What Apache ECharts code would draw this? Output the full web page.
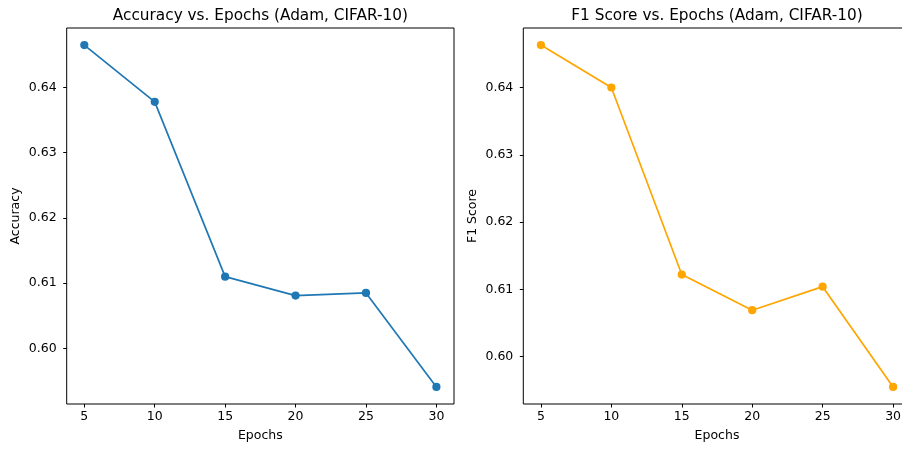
<!DOCTYPE html>
<html>
<head>
<meta charset="utf-8">
<script src="https://cdn.jsdelivr.net/npm/echarts@6/dist/echarts.min.js"></script>
<style>
html,body{margin:0;padding:0;background:#fff;}
#chart{width:902px;height:450px;}
</style>
</head>
<body>
<div id="chart"></div>
<script>
const epochs = [5, 10, 15, 20, 25, 30];
const accuracy = [0.6465, 0.6378, 0.6110, 0.6081, 0.6085, 0.5941];
const f1Score = [0.6463, 0.6400, 0.6122, 0.6069, 0.6104, 0.5955];
const xTicks = [5, 10, 15, 20, 25, 30];
const yTicks = [0.60, 0.61, 0.62, 0.63, 0.64];
const titles = ['Accuracy vs. Epochs (Adam, CIFAR-10)', 'F1 Score vs. Epochs (Adam, CIFAR-10)'];
const yNames = ['Accuracy', 'F1 Score'];
const xName = 'Epochs';

const FONT = 'DejaVu Sans';
function padRange(arr) {
  const mn = Math.min(...arr), mx = Math.max(...arr);
  const m = (mx - mn) * 0.05;
  return [mn - m, mx + m];
}
const xr = padRange(epochs);
const yr = [padRange(accuracy), padRange(f1Score)];

const grids = [
  {left: 66.7, top: 28, width: 387.3, height: 376},
  {left: 523.3, top: 28, width: 387.4, height: 376}
];

const chart = echarts.init(document.getElementById('chart'), null, {renderer: 'canvas'});
const option = {
  animation: false,
  backgroundColor: '#fff',
  title: titles.map((t, i) => ({
    text: t,
    left: grids[i].left + grids[i].width / 2,
    textAlign: 'center',
    top: 9,
    padding: 0,
    textStyle: {fontFamily: FONT, fontSize: 15.3, fontWeight: 'normal', color: '#000'}
  })),
  grid: grids.map(g => Object.assign({show: true, borderColor: '#000', borderWidth: 1, backgroundColor: 'transparent',
    containLabel: false, outerBoundsMode: 'none'}, g)),
  xAxis: [0, 1].map(i => ({
    type: 'value', gridIndex: i, min: xr[0], max: xr[1],
    name: xName, nameLocation: 'middle', nameGap: 25,
    nameTextStyle: {fontFamily: FONT, fontSize: 12.5, color: '#000'},
    axisLine: {show: false},
    splitLine: {show: false},
    axisTick: {show: true, length: 3.5, customValues: xTicks, lineStyle: {color: '#000', width: 1}},
    axisLabel: {customValues: xTicks, margin: 6, fontFamily: FONT, fontSize: 12.5, color: '#000',
      formatter: v => String(v)}
  })),
  yAxis: [0, 1].map(i => ({
    type: 'value', gridIndex: i, min: yr[i][0], max: yr[i][1],
    name: yNames[i], nameLocation: 'middle', nameGap: 44,
    nameTextStyle: {fontFamily: FONT, fontSize: 12.5, color: '#000'},
    axisLine: {show: false},
    splitLine: {show: false},
    axisTick: {show: true, length: 3.5, customValues: yTicks, lineStyle: {color: '#000', width: 1}},
    axisLabel: {customValues: yTicks, margin: 10, fontFamily: FONT, fontSize: 12.5, color: '#000',
      formatter: v => v.toFixed(2)}
  })),
  series: [
    {type: 'line', xAxisIndex: 0, yAxisIndex: 0, data: epochs.map((e, k) => [e, accuracy[k]]),
     symbol: 'circle', symbolSize: 8.2, showSymbol: true,
     lineStyle: {color: '#1f77b4', width: 1.7}, itemStyle: {color: '#1f77b4'}},
    {type: 'line', xAxisIndex: 1, yAxisIndex: 1, data: epochs.map((e, k) => [e, f1Score[k]]),
     symbol: 'circle', symbolSize: 8.2, showSymbol: true,
     lineStyle: {color: '#ffa500', width: 1.7}, itemStyle: {color: '#ffa500'}}
  ]
};
chart.setOption(option);
</script>
</body>
</html>
